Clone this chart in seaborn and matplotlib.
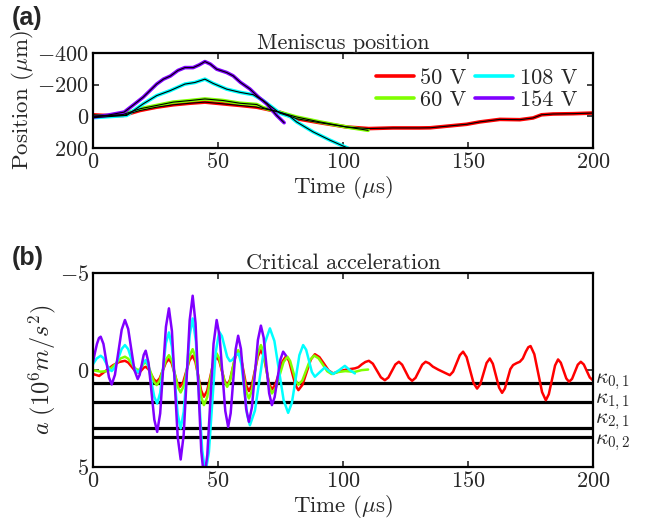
import numpy as np
import pandas as pd
import seaborn as sns
import matplotlib
matplotlib.use('Agg')
import matplotlib.pyplot as plt
import matplotlib.transforms as mtransforms

# ---- (a) meniscus position, um (negative = up) ----
t_pos_50 = [0, 6, 12.1, 18.8, 25.5, 32.1, 38.8, 44.8, 52.1, 58.8, 65.5, 69.5, 75, 81.5, 90.8, 101.5, 110.4,
            120, 130.7, 135, 149.5, 154.8, 162.8, 170.8, 176.1, 179.5, 184.1, 192.1, 200]
pos_50 = [-10, -5, -6, -37, -58, -73, -83, -90, -79, -69, -58, -45, -25, 15, 40, 67, 77,
          73, 73, 72, 50, 35, 19, 21, 10, -10, -15, -17, -21]

t_pos_60 = [0, 6, 12.1, 18.8, 25.5, 32.1, 38.8, 44.8, 52.1, 58.8, 65.5, 68.1, 75, 81.5, 90.8, 101.5, 110.1]
pos_60 = [0, -5, -12, -48, -69, -90, -100, -110, -100, -83, -75, -55, -25, 4, 35, 67, 88]

t_pos_108 = [0, 6, 13.5, 20.1, 25.5, 30.8, 36.8, 40.8, 44.8, 48.1, 53.5, 58.8, 64.1, 68.1, 71.5, 74.8, 78.8,
             81.5, 88.1, 94.8, 102.2]
pos_108 = [8, 2, -6, -79, -131, -162, -204, -214, -235, -208, -172, -152, -137, -100, -60, -20, 0,
           35, 98, 150, 202]

t_pos_154 = [0, 6, 12.5, 16, 20.1, 25.5, 28.2, 31, 34, 36.8, 40.1, 42.5, 44.8, 47, 49.5, 53.5, 56.1, 59,
             62.8, 66, 69.5, 73.5, 76.5]
pos_154 = [5, -8, -27, -70, -121, -204, -235, -255, -290, -308, -308, -325, -346, -330, -298, -277, -256, -215,
           -173, -125, -79, -6, 40]

# ---- (b) critical acceleration, 10^6 m/s^2 ----
t_acc_50 = [0, 2.5, 5, 8, 10.5, 12.8, 14.1, 15.45, 16.8, 18.1, 18.9, 19.6, 20.35, 21.1, 22.2, 23.3, 24.4,
            25.5, 26.7, 27.95, 29.2, 30.4, 31.5, 32.6, 33.7, 34.8, 36.1, 37.35, 38.6, 39.9, 41.0, 42.15,
            43.3, 44.4, 45.7, 46.95, 48.2, 49.5, 50.55, 51.6, 52.65, 53.7, 54.8, 55.9, 57.0, 58.1, 59.2,
            60.25, 61.3, 62.4, 63.6, 64.8, 66.0, 67.2, 68.3, 69.4, 70.5, 71.6, 73.0, 74.45, 75.9, 77.3,
            78.5, 79.75, 81.0, 82.2, 83.85, 85.5, 87.15, 88.8, 90.6, 92.45, 94.3, 96.1, 98.8, 101.5, 104.8,
            106.2, 107.6, 109.0, 110.4, 112.0, 113.6, 115.2, 116.8, 118.2, 119.6, 121.0, 122.4, 123.7,
            125.05, 126.4, 127.7, 129.05, 130.4, 131.75, 133.1, 134.5, 136.0, 138.1, 140.5, 142.8, 144.1,
            145.45, 146.8, 148.1, 149.5, 150.9, 152.3, 153.7, 155.0, 156.25, 157.5, 158.8, 160.0, 161.25,
            162.5, 163.7, 164.8, 165.9, 167.0, 168.1, 169.5, 170.8, 172.0, 173.2, 174.2, 175.1, 176.6,
            178.15, 179.7, 181.2, 182.4, 183.65, 184.9, 186.1, 187.2, 188.3, 189.4, 190.5, 191.7, 192.85,
            194.0, 195.2, 196.4, 197.6, 198.8, 200]
acc_50 = [0.2, 0.3, 0.05, -0.25, -0.42, -0.48, -0.39, -0.18, 0.03, 0.12, 0.08, -0.02, -0.13, -0.17, -0.05,
          0.21, 0.48, 0.6, 0.42, 0.01, -0.39, -0.57, -0.36, 0.14, 0.65, 0.86, 0.62, 0.06, -0.5, -0.74,
          -0.42, 0.32, 1.05, 1.37, 1.06, 0.34, -0.38, -0.69, -0.47, 0.04, 0.55, 0.77, 0.51, -0.09, -0.69,
          -0.95, -0.65, 0.07, 0.78, 1.08, 0.76, 0.03, -0.71, -1.03, -0.73, -0.02, 0.7, 1.0, 0.74, 0.14,
          -0.46, -0.72, -0.46, 0.16, 0.77, 1.03, 0.75, 0.1, -0.54, -0.82, -0.67, -0.33, 0.02, 0.17, 0.05,
          -0.03, -0.09, -0.15, -0.3, -0.42, -0.48, -0.33, 0.02, 0.37, 0.52, 0.38, 0.05, -0.29, -0.43,
          -0.28, 0.06, 0.4, 0.55, 0.4, 0.06, -0.28, -0.43, -0.35, -0.18, -0.03, 0.12, 0.26, 0.08, -0.35,
          -0.77, -0.95, -0.67, 0.0, 0.67, 0.95, 0.72, 0.18, -0.37, -0.6, -0.33, 0.29, 0.9, 1.17, 0.95,
          0.45, -0.05, -0.26, -0.36, -0.43, -0.6, -0.95, -1.18, -1.24, -0.82, 0.16, 1.13, 1.55, 1.24, 0.5,
          -0.24, -0.55, -0.38, 0.03, 0.43, 0.6, 0.45, 0.09, -0.28, -0.43, -0.29, 0.05, 0.38, 0.52]

t_acc_60 = [0, 3, 6, 9, 11, 12.8, 14.1, 15.45, 16.8, 18.1, 18.9, 19.6, 20.35, 21.1, 22.2, 23.3, 24.4, 25.5,
            26.7, 27.95, 29.2, 30.4, 31.6, 32.75, 33.9, 35.1, 36.3, 37.5, 38.7, 39.9, 41.0, 42.15, 43.3,
            44.4, 45.7, 46.95, 48.2, 49.5, 50.55, 51.6, 52.65, 53.7, 54.8, 55.9, 57.0, 58.1, 59.2, 60.25,
            61.3, 62.4, 63.6, 64.8, 66.0, 67.2, 68.3, 69.4, 70.5, 71.6, 73.15, 74.7, 76.25, 77.8, 78.9,
            80.0, 81.1, 82.2, 83.8, 85.35, 86.9, 88.5, 90.25, 92.0, 93.75, 95.5, 98, 101, 104.8, 107.5,
            110.1]
acc_60 = [0.0, 0.08, 0.05, -0.3, -0.6, -0.69, -0.59, -0.35, -0.1, 0.0, -0.06, -0.2, -0.34, -0.4, -0.22,
          0.19, 0.59, 0.77, 0.54, 0.0, -0.54, -0.77, -0.48, 0.19, 0.86, 1.15, 0.82, 0.04, -0.75, -1.08,
          -0.65, 0.36, 1.37, 1.8, 1.4, 0.47, -0.46, -0.86, -0.6, 0.0, 0.6, 0.86, 0.58, -0.09, -0.75,
          -1.03, -0.66, 0.22, 1.09, 1.46, 1.05, 0.09, -0.88, -1.29, -0.92, -0.05, 0.83, 1.2, 0.92, 0.26,
          -0.41, -0.69, -0.47, 0.03, 0.53, 0.75, 0.53, 0.0, -0.53, -0.75, -0.61, -0.28, 0.06, 0.2, 0.1,
          0.05, 0.09, 0.0, -0.03]

t_acc_108 = [0, 1.5, 3.1, 4.2, 5.3, 6.4, 7.5, 8.8, 10.15, 11.5, 12.8, 14.1, 15.35, 16.6, 17.9, 18.7, 19.5,
             20.3, 21.1, 22.25, 23.4, 24.55, 25.7, 26.9, 28.05, 29.2, 30.4, 31.6, 32.75, 33.9, 35.1, 36.3,
             37.5, 38.7, 39.9, 41.2, 42.45, 43.7, 45.0, 46.4, 47.75, 49.1, 50.5, 51.6, 52.65, 53.7, 54.8,
             55.7, 56.55, 57.4, 58.3, 59.4, 60.55, 61.7, 62.8, 64.8, 66.8, 68.8, 70.8, 72.6, 74.45, 76.3,
             78.1, 79.6, 81.1, 82.6, 84.1, 85.3, 86.45, 87.6, 88.8, 90.8, 92.8, 94.5, 96.1, 98.5, 100.8,
             102.8, 104.8]
acc_108 = [-0.3, -0.6, -0.74, -0.62, -0.35, -0.07, 0.05, -0.15, -0.62, -1.09, -1.29, -1.08, -0.59, -0.09,
           0.12, 0.02, -0.2, -0.42, -0.52, -0.18, 0.6, 1.38, 1.72, 1.17, -0.11, -1.39, -1.94, -1.2, 0.53,
           2.26, 3.0, 2.15, 0.17, -1.81, -2.66, -1.47, 1.32, 4.11, 5.3, 4.21, 1.66, -0.89, -1.98, -1.75,
           -1.22, -0.69, -0.46, -0.52, -0.66, -0.8, -0.85, -0.3, 1.0, 2.29, 2.84, 2.09, 0.35, -1.4, -2.15,
           -1.5, 0.03, 1.55, 2.2, 1.68, 0.46, -0.77, -1.29, -1.05, -0.48, 0.1, 0.34, 0.1, -0.14, 0.05,
           0.2, 0.0, -0.22, 0.0, 0.17]

t_acc_154 = [0, 0.8, 1.6, 2.4, 3.1, 4.2, 5.3, 6.4, 7.5, 8.8, 10.15, 11.5, 12.8, 14.1, 15.35, 16.6, 17.9,
             18.7, 19.5, 20.3, 21.1, 22.25, 23.4, 24.55, 25.7, 26.9, 28.05, 29.2, 30.4, 31.6, 32.75, 33.9,
             35.1, 36.3, 37.5, 38.7, 39.9, 41.05, 42.2, 43.35, 44.5, 45.75, 47.0, 48.25, 49.5, 50.65, 51.8,
             52.95, 54.1, 55.1, 56.1, 57.1, 58.1, 59.2, 60.25, 61.3, 62.4, 63.6, 64.8, 66.0, 67.2, 68.3,
             69.4, 70.5, 71.6, 72.7, 73.85, 75.0, 76.1, 77.2]
acc_154 = [-0.4, -0.9, -1.35, -1.65, -1.72, -1.35, -0.49, 0.37, 0.74, 0.24, -0.92, -2.08, -2.58, -2.12,
           -1.06, 0.0, 0.46, 0.24, -0.27, -0.78, -1.0, -0.37, 1.09, 2.55, 3.18, 2.23, 0.0, -2.23, -3.18,
           -2.01, 0.71, 3.43, 4.6, 3.34, 0.39, -2.57, -3.83, -2.42, 0.89, 4.19, 5.6, 4.37, 1.51, -1.35,
           -2.58, -1.76, 0.17, 2.1, 2.92, 2.22, 0.58, -1.07, -1.77, -1.1, 0.45, 2.0, 2.66, 1.92, 0.19,
           -1.55, -2.29, -1.68, -0.25, 1.19, 1.8, 1.39, 0.43, -0.54, -0.95, -0.75]

kappa_names = [r'$\kappa_{0,1}$', r'$\kappa_{1,1}$', r'$\kappa_{2,1}$', r'$\kappa_{0,2}$']
kappa_vals = [0.67, 1.65, 3.0, 3.45]
kappa_label_shift = [-0.08, 0.0, -0.35, 0.3]

voltages = ['50 V', '60 V', '108 V', '154 V']
colors = ['#FF0000', '#80FF00', '#00FFFF', '#8000FF']

sns.set_style('ticks')
plt.rcParams['font.family'] = ['cmr10']
plt.rcParams['mathtext.fontset'] = 'cm'
plt.rcParams['axes.formatter.use_mathtext'] = True
plt.rcParams['axes.unicode_minus'] = True

fig = plt.figure(figsize=(6.5, 5.25), dpi=100)
ax1 = fig.add_axes([0.143, 0.718, 0.769, 0.181])
ax2 = fig.add_axes([0.143, 0.110, 0.769, 0.370])

pos_series = [(t_pos_50, pos_50), (t_pos_60, pos_60), (t_pos_108, pos_108), (t_pos_154, pos_154)]
for (tt, yy), c, v in zip(pos_series, colors, voltages):
    sns.lineplot(x=tt, y=yy, color=c, lw=2.6, label=v, ax=ax1, sort=False)
for (tt, yy) in pos_series:
    sns.lineplot(x=tt, y=yy, color='black', lw=0.8, legend=False, ax=ax1, sort=False)

for k in kappa_vals:
    ax2.axhline(k, color='black', lw=2.3, zorder=1)

acc_series = [(t_acc_50, acc_50), (t_acc_60, acc_60), (t_acc_108, acc_108), (t_acc_154, acc_154)]
for (tt, yy), c in zip(acc_series, colors):
    sns.lineplot(x=tt, y=yy, color=c, lw=1.8, legend=False, ax=ax2, sort=False, zorder=2)
for ln in ax2.get_lines():
    ln.set_solid_joinstyle('round')

ax1.set_xlim(0, 200)
ax1.set_ylim(200, -400)
ax1.set_yticks([-400, -200, 0, 200])
ax2.set_xlim(0, 200)
ax2.set_ylim(5, -5)
ax2.set_yticks([-5, 0, 5])

fs = 16
for ax in (ax1, ax2):
    ax.set_xticks([0, 50, 100, 150, 200])
    ax.tick_params(direction='in', top=True, right=True, length=4, width=1.2, labelsize=fs, pad=3)
    for s in ax.spines.values():
        s.set_linewidth(1.6)
        s.set_color('black')
    ax.set_xlabel(r'Time ($\mu$s)', fontsize=fs + 0.5, labelpad=1)

ax1.set_ylabel(r'Position ($\mu$m)', fontsize=16.5, labelpad=1)
ax2.set_ylabel(r'$a\ (10^6m/s^2)$', fontsize=17.5, labelpad=1)
ax1.set_title('Meniscus position', fontsize=fs, pad=3)
ax2.set_title('Critical acceleration', fontsize=fs, pad=3)

trans = mtransforms.blended_transform_factory(ax2.transAxes, ax2.transData)
for name, k, d in zip(kappa_names, kappa_vals, kappa_label_shift):
    ax2.text(1.005, k + d, name, transform=trans, fontsize=15.5, va='center', ha='left')

ax1.legend(ncol=2, loc='upper right', bbox_to_anchor=(1.0, 1.0), frameon=False, fontsize=fs,
           handlelength=1.7, handletextpad=0.3, columnspacing=0.4, labelspacing=0.1, borderpad=0.2)

fig.text(0.018, 0.966, '(a)', fontsize=18, fontweight='bold', family='Liberation Sans', va='center')
fig.text(0.018, 0.508, '(b)', fontsize=18, fontweight='bold', family='Liberation Sans', va='center')

fig.savefig('out.png', dpi=100)
